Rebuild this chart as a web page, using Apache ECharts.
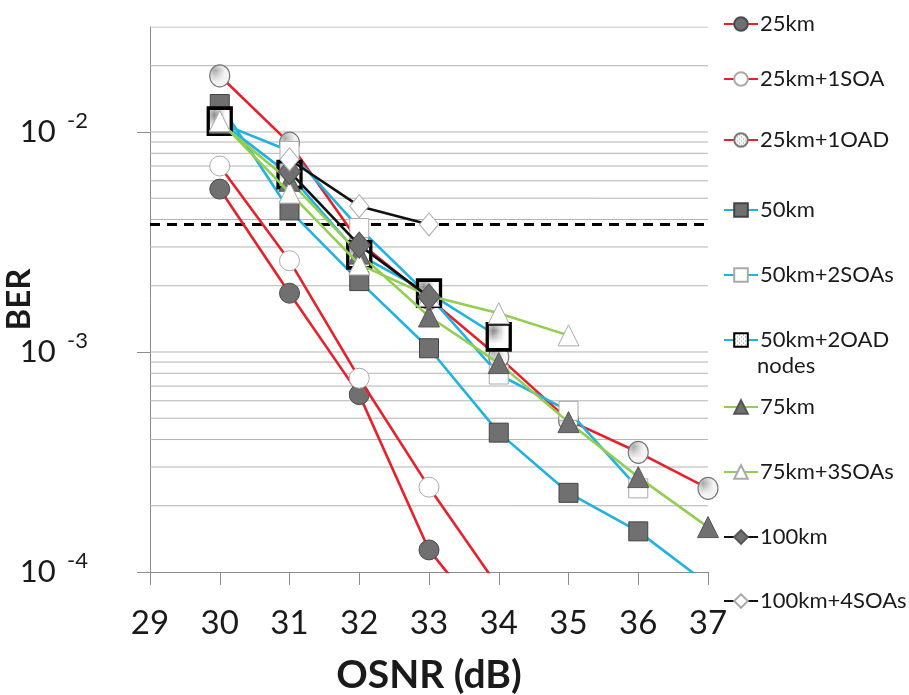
<!DOCTYPE html>
<html><head><meta charset="utf-8">
<script src="https://cdn.jsdelivr.net/npm/echarts@6/dist/echarts.min.js"></script>
<style>html,body{margin:0;padding:0;background:#fff}#c{width:909px;height:695px}</style>
</head><body><div id="c"></div>
<script>
// ---- data ----
const osnr = [30, 31, 32, 33, 34, 35, 36, 37];
const ber25km       = [5.5e-3, 1.85e-3, 6.4e-4, 1.26e-4, 5.1e-5, null, null, null];
const ber25km1SOA   = [7.0e-3, 2.6e-3, 7.6e-4, 2.43e-4, 8.5e-5, null, null, null];
const ber25km1OAD   = [1.8e-2, 8.9e-3, 3.15e-3, 1.75e-3, 9.5e-4, 4.9e-4, 3.5e-4, 2.4e-4];
const ber50km       = [1.34e-2, 4.4e-3, 2.1e-3, 1.04e-3, 4.3e-4, 2.29e-4, 1.53e-4, 8.8e-5];
const ber50km2SOA   = [1.1e-2, 8.2e-3, 3.66e-3, 1.8e-3, 7.9e-4, 5.4e-4, 2.4e-4, null];
const ber50km2OAD   = [1.12e-2, 6.4e-3, 2.76e-3, 1.85e-3, 1.17e-3, null, null, null];
const ber75km       = [1.1e-2, 6.0e-3, 2.8e-3, 1.45e-3, 8.9e-4, 4.8e-4, 2.7e-4, 1.6e-4];
const ber75km3SOA   = [1.12e-2, 5.3e-3, 2.5e-3, 1.8e-3, 1.5e-3, 1.19e-3, null, null];
const ber100km      = [null, 6.6e-3, 3.06e-3, 1.78e-3, null, null, null, null];
const ber100km4SOA  = [null, 7.5e-3, 4.6e-3, 3.8e-3, null, null, null, null];
const seriesNames = ['25km', '25km+1SOA', '25km+1OAD', '50km', '50km+2SOAs', '50km+2OAD', '75km', '75km+3SOAs', '100km', '100km+4SOAs'];
const seriesValues = [ber25km, ber25km1SOA, ber25km1OAD, ber50km, ber50km2SOA, ber50km2OAD, ber75km, ber75km3SOA, ber100km, ber100km4SOA];
const fecThreshold = 3.8e-3;
const gridValues = [2e-4,3e-4,4e-4,5e-4,6e-4,7e-4,8e-4,9e-4,1e-3,2e-3,3e-3,4e-3,5e-3,6e-3,7e-3,8e-3,9e-3,1e-2,2e-2,3e-2];
const decadeTicks = [1e-4, 1e-3, 1e-2];
const xTicks = [29, 30, 31, 32, 33, 34, 35, 36, 37];
const xRange = [29, 37];

// ---- styles ----
const FONT = 'Lato';
function dots(bg, dot) {
  const c = document.createElement('canvas'); c.width = 4; c.height = 4;
  const g = c.getContext('2d'); g.fillStyle = bg; g.fillRect(0, 0, 4, 4);
  g.fillStyle = dot; g.fillRect(1, 1, 1, 1); g.fillRect(3, 3, 1, 1);
  return c;
}
const RED = '#e8202a', BLUE = '#1fb2e3', GREEN = '#92cf50', BLACK = '#111';
const GRAY = '#707070';
const styles = [
  {color: RED, symbol: 'circle', size: 20, fill: GRAY, border: '#4a4a4a', bw: 1},
  {color: RED, symbol: 'circle', size: 20, fill: '#fff', border: '#aaa', bw: 1},
  {color: RED, symbol: 'circle', size: [20, 22], fill: {image: dots('#f4f4f4', '#aaa'), repeat: 'repeat'}, border: '#777', bw: 1.2},
  {color: BLUE, symbol: 'rect', size: 19, fill: GRAY, border: '#444', bw: 1},
  {color: BLUE, symbol: 'rect', size: 19, fill: '#fff', border: '#aaa', bw: 1},
  {color: BLUE, symbol: 'rect', size: [23, 26], fill: {image: dots('#ffffff', '#888'), repeat: 'repeat'}, border: '#000', bw: 3.5},
  {color: GREEN, symbol: 'triangle', size: 21, fill: GRAY, border: '#555', bw: 1},
  {color: GREEN, symbol: 'triangle', size: 21, fill: '#fff', border: '#aaa', bw: 1},
  {color: BLACK, symbol: 'diamond', size: [22, 26], fill: GRAY, border: '#555', bw: 1},
  {color: BLACK, symbol: 'diamond', size: [19, 23], fill: '#fff', border: '#aaa', bw: 1}
];
const legendTops = [17, 72, 133, 203, 268, 333, 400, 465, 530, 594];

const series = [];
// horizontal gridlines (drawn as thin series across the x range)
gridValues.forEach(v => series.push({
  type: 'line', z: 1, silent: true, symbol: 'none', animation: false,
  data: xRange.map(x => [x, v]),
  lineStyle: {color: '#b3b3b3', width: 1}
}));
// FEC threshold dashed line
series.push({
  type: 'line', z: 1, silent: true, symbol: 'none', animation: false,
  data: xRange.map(x => [x, fecThreshold]),
  lineStyle: {color: '#000', width: 3, type: [10, 7]}
});
seriesNames.forEach((name, i) => {
  const s = styles[i];
  series.push({
    name, type: 'line', z: 2 + i,
    data: osnr.map((x, j) => [x, seriesValues[i][j]]).filter(p => p[1] != null),
    symbol: s.symbol, symbolSize: s.size, showAllSymbol: true,
    lineStyle: {color: s.color, width: 2.6},
    itemStyle: {color: s.fill, borderColor: s.border, borderWidth: s.bw, opacity: 1},
    emphasis: {disabled: true},
    animation: false, clip: true
  });
});

const legends = seriesNames.map((name, i) => ({
  data: [name], left: 718, top: legendTops[i] - 9, orient: 'vertical',
  itemWidth: 34, itemHeight: 17, selectedMode: false,
  textStyle: {fontFamily: FONT, fontSize: 22, color: '#1a1a1a', padding: [0, 0, 0, -3]}
}));

const chart = echarts.init(document.getElementById('c'), null, {renderer: 'canvas'});
chart.setOption({
  backgroundColor: '#fff',
  animation: false,
  grid: {left: 150, right: 201, top: 27, bottom: 123, containLabel: false, outerBoundsMode: 'none'},
  legend: legends,
  xAxis: {
    type: 'value', min: 29, max: 37, interval: 1,
    name: 'OSNR (dB)', nameLocation: 'middle', nameGap: 84, nameMoveOverlap: false,
    nameTextStyle: {fontFamily: FONT, fontWeight: 'bold', fontSize: 39, color: '#1a1a1a'},
    axisLine: {show: true, lineStyle: {color: '#8c8c8c', width: 1}},
    axisTick: {show: true, inside: false, length: 13, lineStyle: {color: '#8c8c8c'}, customValues: xTicks},
    axisLabel: {fontFamily: FONT, fontSize: 33, color: '#1a1a1a', margin: 35, customValues: xTicks},
    splitLine: {show: false}
  },
  yAxis: {
    type: 'log', logBase: 10, min: 1e-4, max: 3e-2,
    name: 'BER', nameLocation: 'middle', nameGap: 114, nameRotate: 90, nameMoveOverlap: false,
    nameTextStyle: {fontFamily: FONT, fontWeight: 'bold', fontSize: 33, color: '#1a1a1a'},
    axisLine: {show: true, lineStyle: {color: '#8c8c8c', width: 1}},
    axisTick: {show: true, length: 13, lineStyle: {color: '#8c8c8c'}, customValues: decadeTicks},
    axisLabel: {
      customValues: decadeTicks, margin: 62,
      formatter: v => '{b|10}{s|  -' + Math.round(-Math.log10(v)) + '}',
      rich: {
        b: {fontFamily: FONT, fontSize: 31, color: '#1a1a1a', lineHeight: 34},
        s: {fontFamily: FONT, fontSize: 22, color: '#1a1a1a', verticalAlign: 'top', padding: [0, 0, 22, 0]}
      }
    },
    splitLine: {show: false}
  },
  graphic: [{
    type: 'text', left: 757, top: 355,
    style: {text: 'nodes', fontFamily: FONT, fontSize: 22, fill: '#1a1a1a'}
  }],
  series
});
</script></body></html>
